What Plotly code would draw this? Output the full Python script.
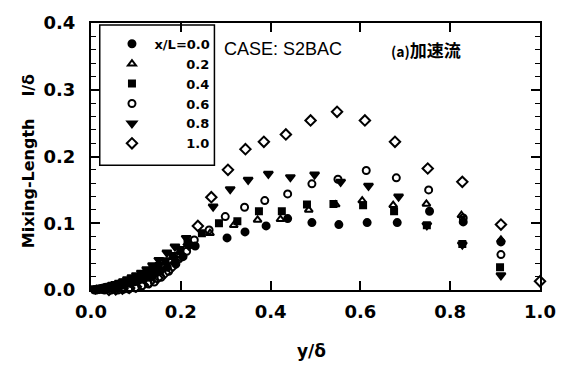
import plotly.graph_objects as go

# Station labels (x/L)
stations = ["x/L=0.0", "0.2", "0.4", "0.6", "0.8", "1.0"]

# Mixing-length profiles l/δ against y/δ at each station
y_00 = [0.008, 0.012, 0.016, 0.020, 0.025, 0.030, 0.035, 0.041, 0.047, 0.054, 0.061, 0.069,
        0.077, 0.086, 0.095, 0.105, 0.116, 0.128, 0.141, 0.155, 0.170, 0.187, 0.205, 0.232,
        0.303, 0.343, 0.390, 0.438, 0.492, 0.552, 0.615, 0.682, 0.754, 0.829, 0.913]
l_00 = [0.000, 0.000, 0.001, 0.001, 0.001, 0.002, 0.002, 0.003, 0.004, 0.005, 0.006, 0.007,
        0.009, 0.010, 0.012, 0.014, 0.017, 0.020, 0.024, 0.029, 0.034, 0.041, 0.050, 0.066,
        0.078, 0.087, 0.096, 0.107, 0.101, 0.098, 0.101, 0.101, 0.118, 0.102, 0.072]

y_02 = [0.012, 0.018, 0.024, 0.030, 0.037, 0.044, 0.052, 0.060, 0.069, 0.079, 0.090, 0.102,
        0.115, 0.130, 0.147, 0.167, 0.192, 0.220, 0.265, 0.318, 0.371, 0.422, 0.485, 0.545,
        0.604, 0.673, 0.747, 0.825, 0.913]
l_02 = [0.001, 0.001, 0.002, 0.003, 0.004, 0.005, 0.006, 0.008, 0.010, 0.012, 0.015, 0.018,
        0.022, 0.027, 0.033, 0.041, 0.052, 0.066, 0.085, 0.097, 0.105, 0.106, 0.120, 0.128,
        0.134, 0.127, 0.129, 0.112, 0.075]

y_04 = [0.009, 0.014, 0.019, 0.024, 0.029, 0.035, 0.041, 0.048, 0.055, 0.063, 0.072, 0.081,
        0.091, 0.101, 0.112, 0.124, 0.137, 0.151, 0.166, 0.182, 0.199, 0.215, 0.247, 0.285,
        0.326, 0.374, 0.425, 0.481, 0.540, 0.606, 0.675, 0.748, 0.827, 0.911]
l_04 = [0.001, 0.001, 0.002, 0.002, 0.003, 0.004, 0.005, 0.006, 0.007, 0.009, 0.011, 0.013,
        0.016, 0.019, 0.022, 0.026, 0.031, 0.036, 0.043, 0.051, 0.060, 0.070, 0.085, 0.100,
        0.103, 0.118, 0.118, 0.128, 0.129, 0.127, 0.118, 0.097, 0.069, 0.034]

y_06 = [0.030, 0.045, 0.060, 0.072, 0.084, 0.099, 0.113, 0.128, 0.141, 0.156, 0.173, 0.189,
        0.213, 0.230, 0.263, 0.299, 0.342, 0.387, 0.438, 0.492, 0.550, 0.613, 0.680, 0.752,
        0.829, 0.913]
l_06 = [0.000, 0.000, 0.000, 0.001, 0.0015, 0.003, 0.006, 0.009, 0.012, 0.019, 0.028, 0.039,
        0.058, 0.075, 0.090, 0.110, 0.124, 0.134, 0.144, 0.159, 0.166, 0.179, 0.168, 0.150,
        0.108, 0.053]

y_08 = [0.010, 0.014, 0.019, 0.024, 0.029, 0.035, 0.041, 0.048, 0.055, 0.063, 0.072, 0.081,
        0.091, 0.101, 0.112, 0.124, 0.137, 0.151, 0.169, 0.187, 0.212, 0.272, 0.310, 0.350,
        0.395, 0.444, 0.498, 0.556, 0.618, 0.685, 0.748, 0.827, 0.913]
l_08 = [0.001, 0.002, 0.002, 0.003, 0.004, 0.005, 0.006, 0.008, 0.009, 0.011, 0.013, 0.016,
        0.019, 0.022, 0.026, 0.031, 0.037, 0.045, 0.056, 0.065, 0.078, 0.125, 0.151, 0.165,
        0.174, 0.169, 0.173, 0.162, 0.156, 0.140, 0.097, 0.068, 0.022]

y_10 = [0.040, 0.055, 0.070, 0.085, 0.100, 0.115, 0.130, 0.148, 0.165, 0.182, 0.200, 0.218,
        0.238, 0.268, 0.305, 0.344, 0.385, 0.434, 0.489, 0.548, 0.610, 0.677, 0.750, 0.827,
        0.913, 1.000]
l_10 = [0.000, 0.001, 0.002, 0.003, 0.005, 0.008, 0.012, 0.018, 0.026, 0.036, 0.050, 0.068,
        0.096, 0.139, 0.180, 0.211, 0.222, 0.233, 0.254, 0.267, 0.254, 0.222, 0.182, 0.162,
        0.098, 0.013]

series = [(y_00, l_00), (y_02, l_02), (y_04, l_04), (y_06, l_06), (y_08, l_08), (y_10, l_10)]
symbols = ["circle", "triangle-up-open", "square", "circle-open", "triangle-down", "diamond-open"]
sizes = [7, 7, 6, 7, 8, 8]

NB = "\u00a0"
fig = go.Figure()
for i, ((xs, ys), name) in enumerate(zip(series, stations)):
    # pad the short labels so the legend text lines up on the right
    label = name if i == 0 else NB * 7 + name
    fig.add_trace(go.Scatter(
        x=xs, y=ys, mode="markers", name=label, cliponaxis=False,
        marker=dict(symbol=symbols[i], size=sizes[i], color="black",
                    line=dict(color="black", width=2)),
    ))

W, H = 568, 370
L, R, T, B = 91, 15, 16, 80
pw, ph = W - L - R, H - T - B


def px(xp):
    return (xp - L) / pw


def py(yp):
    return (H - B - yp) / ph


tick_font = dict(family="DejaVu Sans", size=18, color="black", weight="bold")
axis_common = dict(
    showline=True, linecolor="black", linewidth=2, mirror="ticks",
    ticks="inside", tickcolor="black", tickwidth=1.5, showgrid=False, zeroline=False,
    tickfont=tick_font, tickformat=".1f", ticklabeloverflow="allow",
)

fig.update_layout(
    width=W, height=H,
    margin=dict(l=L, r=R, t=T, b=B),
    paper_bgcolor="white", plot_bgcolor="white",
    showlegend=True,
    legend=dict(
        x=px(110), y=py(22), xanchor="left", yanchor="top",
        bgcolor="rgba(0,0,0,0)", borderwidth=0,
        font=dict(family="DejaVu Sans", size=13, color="black", weight="bold"),
        itemwidth=35,
    ),
    xaxis=dict(range=[0, 1], tickvals=[0, 0.2, 0.4, 0.6, 0.8, 1.0], ticklen=9,
               ticklabelstandoff=4, **axis_common),
    yaxis=dict(range=[0, 0.4], tickvals=[0, 0.1, 0.2, 0.3, 0.4], ticklen=9,
               ticklabelstandoff=10,
               minor=dict(dtick=0.02, ticks="inside", ticklen=5, tickcolor="black", tickwidth=1),
               **axis_common),
    shapes=[dict(type="rect", xref="paper", yref="paper",
                 x0=px(100), x1=px(218), y0=py(162), y1=py(18),
                 line=dict(color="black", width=1.5))],
    annotations=[
        dict(text="CASE: S2BAC", xref="paper", yref="paper", x=px(289), y=py(43),
             xanchor="center", yanchor="middle", showarrow=False,
             font=dict(family="Liberation Sans", size=18, color="black")),
        dict(text="<span style='font-size:14px'>(a)</span>加速流", xref="paper", yref="paper",
             x=px(436), y=py(43), xanchor="center", yanchor="middle", showarrow=False,
             font=dict(family="Noto Sans CJK JP", size=17, color="black", weight="bold")),
        dict(text="Mixing-Length" + NB * 4 + "l/δ", xref="paper", yref="paper",
             x=px(27), y=py(158), xanchor="center", yanchor="middle", textangle=-90,
             showarrow=False,
             font=dict(family="DejaVu Sans", size=16, color="black", weight="bold")),
        dict(text="y/δ", xref="paper", yref="paper", x=px(318), y=py(353),
             xanchor="center", yanchor="middle", showarrow=False,
             font=dict(family="DejaVu Sans", size=17, color="black", weight="bold")),
    ],
)

fig.write_html("out.html")
